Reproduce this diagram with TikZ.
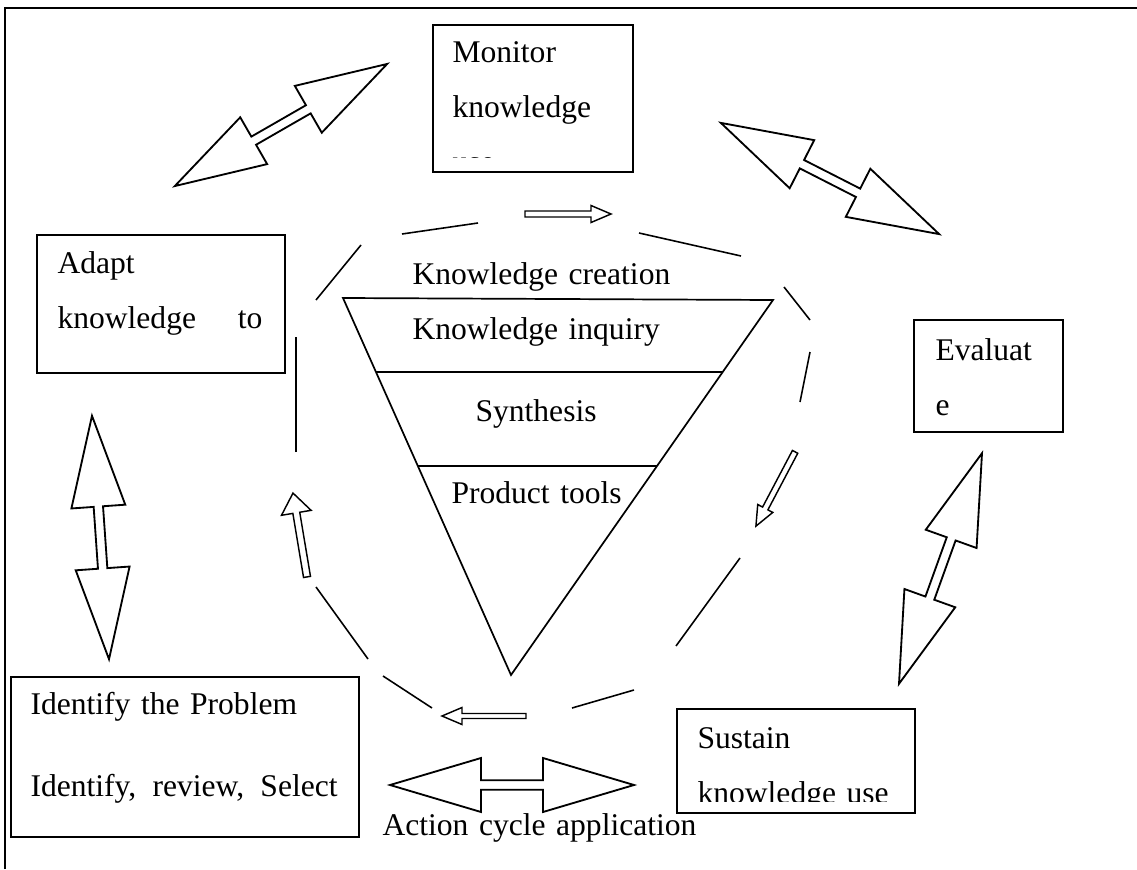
\documentclass[tikz,border=0pt]{standalone}
\usepackage{fontspec}
\setmainfont{Liberation Serif}

% block arrow with a head at both ends: centre, angle, length
\newcommand{\twowayarrow}[3]{%
  \begin{scope}[shift={#1}, rotate=#2]
    \draw[blockline] (-#3/2,0) -- ++(91,27) -- ++(0,-22.3) -- (#3/2-91,4.7) -- ++(0,22.3)
      -- (#3/2,0) -- ++(-91,-27) -- ++(0,22.3) -- (-#3/2+91,-4.7) -- ++(0,-22.3) -- cycle;
  \end{scope}}
% thin hollow arrow: centre, angle, length, head half width, shaft half width
\newcommand{\flowarrow}[5]{%
  \begin{scope}[shift={#1}, rotate=#2]
    \draw[smallline] (-#3/2,#5) -- (#3/2-20,#5) -- (#3/2-20,#4) -- (#3/2,0)
      -- (#3/2-20,-#4) -- (#3/2-20,-#5) -- (-#3/2,-#5) -- cycle;
  \end{scope}}

\begin{document}
\begin{tikzpicture}[x=0.38pt, y=-0.38pt,
    box/.style={draw, line width=0.75pt, inner sep=0pt, anchor=north west},
    txt/.style={inner sep=0pt, anchor=base west, text width=200pt, align=left,
                font=\fontsize{12}{20.9}\selectfont},
    blockline/.style={line width=0.7pt},
    smallline/.style={line width=0.55pt},
    cycleline/.style={line width=0.6pt},
    funnel/.style={line width=0.65pt}]

    \useasboundingbox (0,0) rectangle (1137,869);
    \draw[line width=1pt] (5,869) -- (5,8) -- (1137,8);

    % the five stages
    \node[box, minimum width=76pt, minimum height=55.86pt] (monitor) at (432,24) {};
    \node[box, minimum width=94.24pt, minimum height=52.44pt] (adapt) at (36,234) {};
    \node[box, minimum width=56.62pt, minimum height=42.56pt] (evaluate) at (913,319) {};
    \node[box, minimum width=90.44pt, minimum height=39.52pt] (sustain) at (676,708) {};
    \node[box, minimum width=132.24pt, minimum height=60.8pt] (identify) at (10,676) {};

    \begin{scope}
        \clip (433,25) rectangle (631,158);
        \node[txt] (monitorText) at (452,63) {Monitor\\knowledge\\use};
    \end{scope}
    \node[txt] (adaptText) at (57,273) {Adapt\\\hbox to 77.9pt{knowledge\hfill to}};
    \node[txt] (evaluateText) at (935,360) {Evaluat\\e};
    \begin{scope}
        \clip (677,709) rectangle (913,801);
        \node[txt] (sustainText) at (697,748) {Sustain\\knowledge use};
    \end{scope}
    \node[txt] (identifyText) at (30,714) {Identify the Problem\\[10.6pt]\hbox to 116.7pt{Identify,\hfill review,\hfill Select}};
    \node[txt] (actionText) at (382,835) {Action cycle application};

    % knowledge funnel
    \coordinate (tl) at (343,298);
    \coordinate (tr) at (773,300);
    \coordinate (bottom) at (511,675);
    \draw[funnel] (tl) -- (tr) -- (bottom) -- cycle;
    \draw[funnel] (376,372) -- (722,372);
    \draw[funnel] (418,466) -- (657,466);
    \node[txt] (creation) at (412,284) {Knowledge creation};
    \node[txt] (inquiry) at (412,339) {Knowledge inquiry};
    \node[txt] (synthesis) at (475,421) {Synthesis};
    \node[txt] (tools) at (451,503) {Product tools};

    % broken ring round the funnel
    \foreach \xa/\ya/\xb/\yb in {402/234/478/223, 639/233/741/256, 784/287/810/320,
        810/352/800/402, 740/558/676/646, 634/690/572/708, 432/708/383/676,
        368/659/316/587, 296/452/296/337, 316/300/361/245}
        \draw[cycleline] (\xa,\ya) -- (\xb,\yb);

    \flowarrow{(568,214)}{0}{86}{8.5}{3}
    \flowarrow{(775.5,489)}{-117.8}{84}{8.5}{3}
    \flowarrow{(484,716)}{180}{84}{8.5}{2.5}
    \flowarrow{(300,535)}{99.5}{85}{15}{3.5}

    % links between the stages
    \twowayarrow{(281,125)}{29.9}{245}
    \twowayarrow{(830,178.5)}{-27}{245}
    \twowayarrow{(940.5,568.5)}{70.2}{245}
    \twowayarrow{(100.5,537.5)}{94}{244}
    \twowayarrow{(512,785)}{0}{244}

\end{tikzpicture}
\end{document}
